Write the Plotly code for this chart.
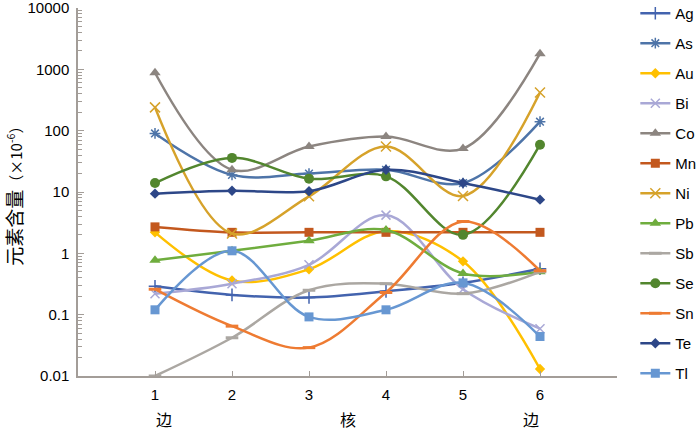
import plotly.graph_objects as go

# sample positions (1 and 6 = 边, 4 ~ 核)
x = [1, 2, 3, 4, 5, 6]

elements = ["Ag", "As", "Au", "Bi", "Co", "Mn", "Ni", "Pb", "Sb", "Se", "Sn", "Te", "Tl"]

ag = [0.29, 0.21, 0.19, 0.24, 0.33, 0.56]
as_ = [90, 19, 20, 23, 14, 140]
au = [2.2, 0.36, 0.55, 2.3, 0.74, 0.013]
bi = [0.22, 0.32, 0.65, 4.2, 0.26, 0.059]
co = [880, 23, 55, 80, 51, 1800]
mn = [2.7, 2.2, 2.2, 2.2, 2.2, 2.2]
ni = [240, 2.1, 8.5, 55, 8.6, 420]
pb = [0.77, 1.1, 1.6, 2.4, 0.47, 0.5]
sb = [0.01, 0.042, 0.25, 0.32, 0.22, 0.5]
se = [14, 36, 16.5, 18, 2.0, 59]
sn = [0.26, 0.065, 0.029, 0.23, 3.3, 0.52]
te = [9.4, 10.5, 10.3, 23, 14, 7.5]
tl = [0.12, 1.1, 0.092, 0.12, 0.33, 0.044]

series = [ag, as_, au, bi, co, mn, ni, pb, sb, se, sn, te, tl]

colors = ["#4363AE", "#4E74A8", "#FFC000", "#A9A8D6", "#8C8580", "#C3581E", "#D6A22A",
          "#6FAD3E", "#ABA7A2", "#52862E", "#EE7B32", "#2D4788", "#6797D2"]
symbols = ["cross-thin-open", "asterisk-open", "diamond", "x-thin-open", "triangle-up", "square",
           "x-thin-open", "triangle-up", "line-ew-open", "circle", "line-ew-open", "diamond", "square"]
sizes = [9, 9, 8, 9, 10, 9, 10, 10, 9, 10, 9, 8, 9]

fig = go.Figure()
for name, ys, c, s, sz in zip(elements, series, colors, symbols, sizes):
    open_ = s.endswith("-open")
    fig.add_trace(go.Scatter(
        x=x, y=ys, name=name, mode="lines+markers",
        line=dict(color=c, width=2.5, shape="spline"),
        marker=dict(symbol=s, size=sz, color=c,
                    line=dict(color=c, width=3 if "line-ew" in s else (1.5 if open_ else 0))),
        cliponaxis=False, legendgroup=name,
    ))

axis_col = "#A39D98"
minor_vals = [m * 10 ** e for e in range(-2, 4) for m in range(2, 10)]

fig.update_layout(
    width=700, height=431,
    margin=dict(l=78, r=83, t=8, b=55, autoexpand=False),
    plot_bgcolor="white", paper_bgcolor="white",
    font=dict(family="Liberation Sans, Arial, Noto Sans CJK SC", size=15, color="black"),
    legend=dict(x=1.034, y=1.03, yanchor="top", xanchor="left", tracegroupgap=7.5, maxheight=425,
                font=dict(size=15), itemwidth=30, bgcolor="rgba(0,0,0,0)"),
    xaxis=dict(range=[0, 7], tickvals=[1, 2, 3, 4, 5, 6, 7], ticktext=["1", "2", "3", "4", "5", "6", ""],
               showgrid=False, zeroline=False, showline=True, linecolor=axis_col, linewidth=1.5,
               ticks="inside", ticklen=5, tickcolor=axis_col, ticklabelstandoff=4),
    yaxis=dict(type="log", range=[-2, 4],
               tickvals=[0.01, 0.1, 1, 10, 100, 1000, 10000],
               ticktext=["0.01", "0.1", "1", "10", "100", "1000", "10000"],
               showgrid=False, zeroline=False, showline=True, linecolor=axis_col, linewidth=1.5,
               ticks="inside", ticklen=6, tickcolor=axis_col, ticklabelstandoff=4,
               ticklabeloverflow="allow",
               minor=dict(tickvals=minor_vals, ticks="inside", ticklen=4, tickcolor=axis_col, showgrid=False)),
)

fig.add_annotation(text="元素含量<span style='font-size:15px'>（×10<sup>-6</sup>）</span>",
                   xref="paper", yref="paper", x=-0.121, y=0.50, xanchor="center", yanchor="middle",
                   textangle=-90, showarrow=False,
                   font=dict(family="Noto Sans CJK SC", size=19, color="black"))

for xv, t in [(1.12, "边"), (3.5, "核"), (5.88, "边")]:
    fig.add_annotation(text=t, x=xv, xref="x", yref="paper", y=-0.117, yanchor="middle",
                       showarrow=False, font=dict(family="Noto Sans CJK SC", size=16, color="black"))

# the page's default body margin would shift the figure by 8px
fig.write_html("out.html", config={"displayModeBar": False},
               post_script="document.body.style.margin='0';")
